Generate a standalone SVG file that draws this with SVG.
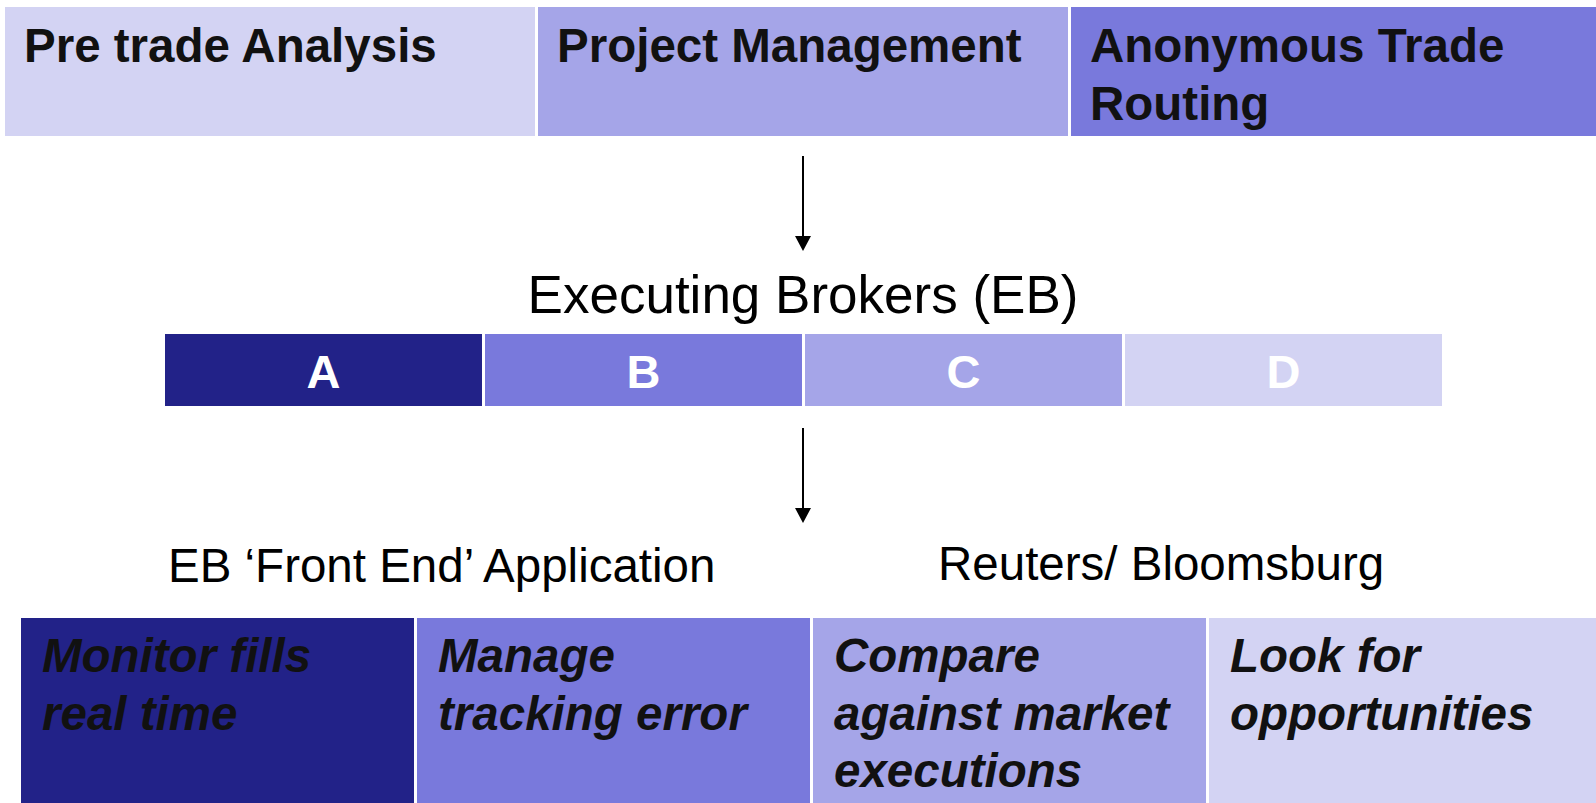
<svg xmlns="http://www.w3.org/2000/svg" width="1596" height="803" viewBox="0 0 1596 803">
<defs>
<style>
.c1{fill:#d3d3f3}
.c2{fill:#a5a5e8}
.c3{fill:#7979dc}
.c4{fill:#222288}
.hdr{font-family:"Liberation Sans",Arial,sans-serif;font-weight:bold;font-size:47.5px;fill:#111111}
.lbl{font-family:"Liberation Sans",Arial,sans-serif;font-size:47.5px;fill:#000000}
.big{font-family:"Liberation Sans",Arial,sans-serif;font-size:53px;fill:#000000}
.let{font-family:"Liberation Sans",Arial,sans-serif;font-weight:bold;font-size:47px;fill:#ffffff;text-anchor:middle}
.it{font-family:"Liberation Sans",Arial,sans-serif;font-weight:bold;font-style:italic;font-size:47.5px;fill:#111111}
.arr{stroke:#000000;stroke-width:2;fill:none}
</style>
<marker id="ah" markerUnits="userSpaceOnUse" markerWidth="16" markerHeight="16" refX="0" refY="8" orient="auto" viewBox="0 0 16 16">
<path d="M0,0 L15,8 L0,16 Z" fill="#000000"/>
</marker>
</defs>
<rect width="1596" height="803" fill="#ffffff"/>

<g id="pre-trade-analysis">
<rect class="c1" x="5" y="7" width="530" height="129"/>
<text class="hdr" x="24" y="62">Pre trade Analysis</text>
</g>
<g id="project-management">
<rect class="c2" x="538" y="7" width="530" height="129"/>
<text class="hdr" x="557" y="62">Project Management</text>
</g>
<g id="anonymous-trade-routing">
<rect class="c3" x="1071" y="7" width="530" height="129"/>
<text class="hdr" x="1090" y="62">Anonymous Trade</text>
<text class="hdr" x="1090" y="120">Routing</text>
</g>

<g id="executing-brokers">
<text class="big" x="803" y="313" text-anchor="middle">Executing Brokers (EB)</text>
</g>
<g id="eb-a">
<rect class="c4" x="165" y="334" width="317" height="72"/>
<text class="let" x="323.5" y="388">A</text>
</g>
<g id="eb-b">
<rect class="c3" x="485" y="334" width="317" height="72"/>
<text class="let" x="643.5" y="388">B</text>
</g>
<g id="eb-c">
<rect class="c2" x="805" y="334" width="317" height="72"/>
<text class="let" x="963.5" y="388">C</text>
</g>
<g id="eb-d">
<rect class="c1" x="1125" y="334" width="317" height="72"/>
<text class="let" x="1283.5" y="388">D</text>
</g>

<g id="eb-front-end">
<text class="lbl" x="168" y="582">EB ‘Front End’ Application</text>
</g>
<g id="reuters-bloomsburg">
<text class="lbl" x="938" y="580">Reuters/ Bloomsburg</text>
</g>

<g id="monitor-fills">
<rect class="c4" x="21" y="618" width="393" height="190"/>
<text class="it" x="42" y="672">Monitor fills</text>
<text class="it" x="42" y="730">real time</text>
</g>
<g id="manage-tracking">
<rect class="c3" x="417" y="618" width="393" height="190"/>
<text class="it" x="438" y="672">Manage</text>
<text class="it" x="438" y="730">tracking error</text>
</g>
<g id="compare-market">
<rect class="c2" x="813" y="618" width="393" height="190"/>
<text class="it" x="834" y="672">Compare</text>
<text class="it" x="834" y="730">against market</text>
<text class="it" x="834" y="787">executions</text>
</g>
<g id="look-opportunities">
<rect class="c1" x="1209" y="618" width="393" height="190"/>
<text class="it" x="1230" y="672">Look for</text>
<text class="it" x="1230" y="730">opportunities</text>
</g>

<g id="connectors">
<line class="arr" x1="803" y1="156" x2="803" y2="236" marker-end="url(#ah)"/>
<line class="arr" x1="803" y1="428" x2="803" y2="508" marker-end="url(#ah)"/>
</g>
</svg>
